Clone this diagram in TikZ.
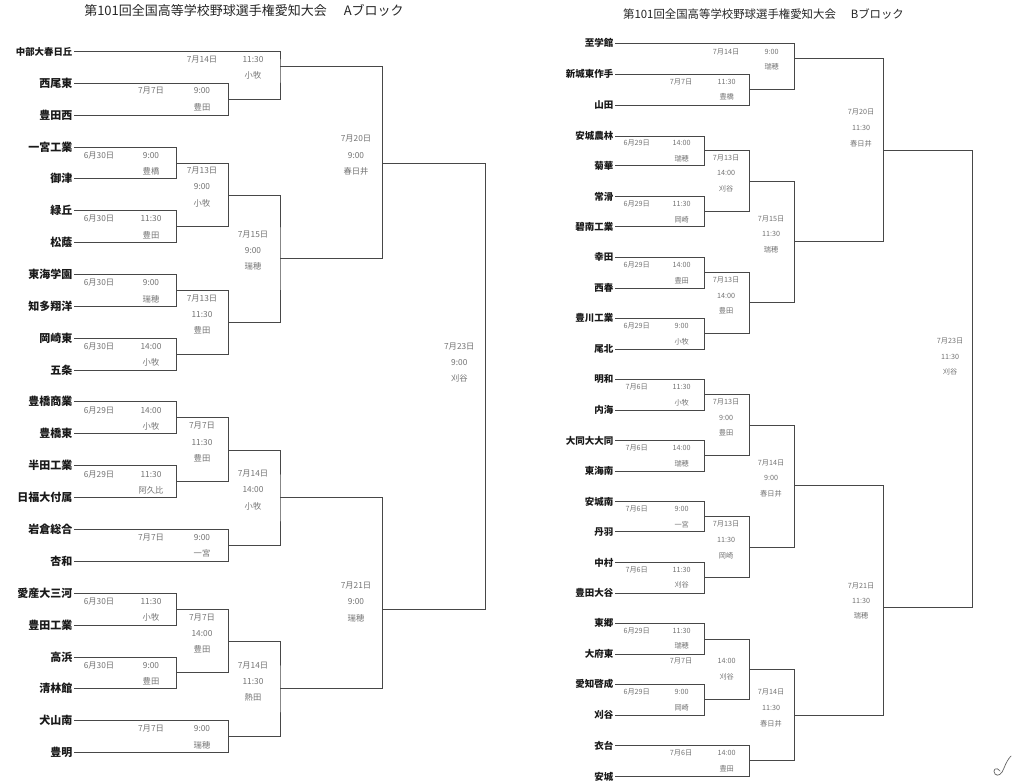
\documentclass[tikz,border=0pt]{standalone}
\usepackage{fontspec}
\newfontfamily\jp{Noto Sans CJK JP}
\newcounter{lbl}
\tikzset{
  br/.style={draw=black!72, line width=1pt},
  teamL/.style={anchor=east, inner xsep=1.5pt, inner ysep=0pt, text=black!90,
    font=\jp\bfseries\fontsize{11}{11}\selectfont},
  teamLs/.style={teamL, font=\jp\bfseries\fontsize{9.4}{9.4}\selectfont},
  teamR/.style={teamL, font=\jp\bfseries\fontsize{9.5}{9.5}\selectfont},
  labL/.style={inner sep=0pt, text=black!55, font=\jp\fontsize{8.3}{8.3}\selectfont},
  labR/.style={labL, font=\jp\fontsize{7.2}{7.2}\selectfont},
  ttlL/.style={inner sep=0pt, text=black!85, font=\jp\fontsize{13}{13}\selectfont},
  ttlR/.style={ttlL, font=\jp\fontsize{11.4}{11.4}\selectfont},
}
\newcommand\mt[5]{\coordinate (#1) at (#4,#5); \draw[br] (#2) -| (#1) |- (#3);}
\newcommand\lb[4]{\stepcounter{lbl}\node[#1] (lb\arabic{lbl}) at (#2,#3) {#4};}
\begin{document}
\begin{tikzpicture}[x=1pt,y=-1pt]
\useasboundingbox (0,0) rectangle (1024,782);
\fill[white] (0,0) rectangle (1024,782);
% titles
\node[ttlL] (titleA) at (244,10.7) {第101回全国高等学校野球選手権愛知大会\hspace{1.3em}Aブロック};
\node[ttlR] (titleB) at (763.5,14.3) {第101回全国高等学校野球選手権愛知大会\hspace{1.3em}Bブロック};
% ---------------- A block teams
\node[teamLs] (a1) at (74,51.7) {中部大春日丘};
\node[teamL] (a2) at (74,83) {西尾東};
\node[teamL] (a3) at (74,115) {豊田西};
\node[teamL] (a4) at (74,147) {一宮工業};
\node[teamL] (a5) at (74,178) {御津};
\node[teamL] (a6) at (74,210.7) {緑丘};
\node[teamL] (a7) at (74,242) {松蔭};
\node[teamL] (a8) at (74,274) {東海学園};
\node[teamL] (a9) at (74,306.7) {知多翔洋};
\node[teamL] (a10) at (74,338) {岡崎東};
\node[teamL] (a11) at (74,370) {五条};
\node[teamL] (a12) at (74,401.7) {豊橋商業};
\node[teamL] (a13) at (74,433) {豊橋東};
\node[teamL] (a14) at (74,465.7) {半田工業};
\node[teamL] (a15) at (74,497.7) {日福大付属};
\node[teamL] (a16) at (74,529.7) {岩倉総合};
\node[teamL] (a17) at (74,561.7) {杏和};
\node[teamL] (a18) at (74,593.3) {愛産大三河};
\node[teamL] (a19) at (74,625) {豊田工業};
\node[teamL] (a20) at (74,657.3) {高浜};
\node[teamL] (a21) at (74,688.7) {清林館};
\node[teamL] (a22) at (74,720.7) {犬山南};
\node[teamL] (a23) at (74,752.7) {豊明};
% A matches
\mt{mA1}{a2.east}{a3.east}{228.7}{99}
\lb{labL}{151}{91}{7月7日}\lb{labL}{202}{91}{9:00}\lb{labL}{202}{107.7}{豊田}
\mt{mA2}{a1.east}{mA1}{280}{66.7}
\lb{labL}{202}{59.3}{7月14日}\lb{labL}{253}{59.3}{11:30}\lb{labL}{253}{75.7}{小牧}
\mt{mA3}{a4.east}{a5.east}{176.7}{163.3}
\lb{labL}{99}{155.3}{6月30日}\lb{labL}{151}{155.3}{9:00}\lb{labL}{151}{171}{豊橋}
\mt{mA4}{a6.east}{a7.east}{176.7}{226}
\lb{labL}{99}{219}{6月30日}\lb{labL}{151}{219}{11:30}\lb{labL}{151}{235}{豊田}
\mt{mA5}{mA3}{mA4}{228.7}{195}
\lb{labL}{202}{171}{7月13日}\lb{labL}{202}{187}{9:00}\lb{labL}{202}{203.3}{小牧}
\mt{mA6}{a8.east}{a9.east}{176.7}{290}
\lb{labL}{99}{282.3}{6月30日}\lb{labL}{151}{282.3}{9:00}\lb{labL}{151}{299}{瑞穂}
\mt{mA7}{a10.east}{a11.east}{176.7}{354}
\lb{labL}{99}{346.7}{6月30日}\lb{labL}{151}{346.7}{14:00}\lb{labL}{151}{362.7}{小牧}
\mt{mA8}{mA6}{mA7}{228.7}{322.3}
\lb{labL}{202}{298.3}{7月13日}\lb{labL}{202}{315}{11:30}\lb{labL}{202}{330.7}{豊田}
\mt{mA9}{mA5}{mA8}{280}{258.3}
\lb{labL}{253}{234.3}{7月15日}\lb{labL}{253}{250.7}{9:00}\lb{labL}{253}{266.7}{瑞穂}
\mt{mA10}{mA2}{mA9}{382.7}{163.3}
\lb{labL}{356}{139}{7月20日}\lb{labL}{356}{155.3}{9:00}\lb{labL}{356}{171}{春日井}
\mt{mA11}{a12.east}{a13.east}{176.7}{417.7}
\lb{labL}{99}{410.7}{6月29日}\lb{labL}{151}{410.7}{14:00}\lb{labL}{151}{426.3}{小牧}
\mt{mA12}{a14.east}{a15.east}{176.7}{481.7}
\lb{labL}{99}{474.3}{6月29日}\lb{labL}{151}{474.3}{11:30}\lb{labL}{151}{490.3}{阿久比}
\mt{mA13}{mA11}{mA12}{228.7}{450}
\lb{labL}{202}{426}{7月7日}\lb{labL}{202}{442.3}{11:30}\lb{labL}{202}{458.3}{豊田}
\mt{mA14}{a16.east}{a17.east}{228.7}{545.7}
\lb{labL}{151}{537.7}{7月7日}\lb{labL}{202}{537.7}{9:00}\lb{labL}{202}{553.3}{一宮}
\mt{mA15}{mA13}{mA14}{280}{497.7}
\lb{labL}{253}{474}{7月14日}\lb{labL}{253}{490}{14:00}\lb{labL}{253}{506}{小牧}
\mt{mA16}{a18.east}{a19.east}{176.7}{609}
\lb{labL}{99}{601.7}{6月30日}\lb{labL}{151}{601.7}{11:30}\lb{labL}{151}{617.7}{小牧}
\mt{mA17}{a20.east}{a21.east}{176.7}{672.7}
\lb{labL}{99}{665.7}{6月30日}\lb{labL}{151}{665.7}{9:00}\lb{labL}{151}{681.3}{豊田}
\mt{mA18}{mA16}{mA17}{228.7}{641}
\lb{labL}{202}{617.7}{7月7日}\lb{labL}{202}{633.3}{14:00}\lb{labL}{202}{649.7}{豊田}
\mt{mA19}{a22.east}{a23.east}{228.7}{736.7}
\lb{labL}{151}{729}{7月7日}\lb{labL}{202}{729}{9:00}\lb{labL}{202}{745}{瑞穂}
\mt{mA20}{mA18}{mA19}{280}{688.7}
\lb{labL}{253}{665.7}{7月14日}\lb{labL}{253}{681.3}{11:30}\lb{labL}{253}{697.7}{熱田}
\mt{mA21}{mA15}{mA20}{382.7}{609}
\lb{labL}{356}{586}{7月21日}\lb{labL}{356}{602}{9:00}\lb{labL}{356}{618}{瑞穂}
\mt{fA}{mA10}{mA21}{485.7}{386}
\lb{labL}{459.3}{346.7}{7月23日}\lb{labL}{459.3}{362.7}{9:00}\lb{labL}{459.3}{378.7}{刈谷}
% ---------------- B block teams
\node[teamR] (b1) at (615,43.3) {至学館};
\node[teamR] (b2) at (615,74) {新城東作手};
\node[teamR] (b3) at (615,105.3) {山田};
\node[teamR] (b4) at (615,136) {安城農林};
\node[teamR] (b5) at (615,165.7) {菊華};
\node[teamR] (b6) at (615,196.7) {常滑};
\node[teamR] (b7) at (615,226.7) {碧南工業};
\node[teamR] (b8) at (615,257.3) {幸田};
\node[teamR] (b9) at (615,288.3) {西春};
\node[teamR] (b10) at (615,318.3) {豊川工業};
\node[teamR] (b11) at (615,349) {尾北};
\node[teamR] (b12) at (615,379) {明和};
\node[teamR] (b13) at (615,410) {内海};
\node[teamR] (b14) at (615,440.7) {大同大大同};
\node[teamR] (b15) at (615,471) {東海南};
\node[teamR] (b16) at (615,501.7) {安城南};
\node[teamR] (b17) at (615,531.7) {丹羽};
\node[teamR] (b18) at (615,562.7) {中村};
\node[teamR] (b19) at (615,593.3) {豊田大谷};
\node[teamR] (b20) at (615,623.3) {東郷};
\node[teamR] (b21) at (615,654) {大府東};
\node[teamR] (b22) at (615,684.3) {愛知啓成};
\node[teamR] (b23) at (615,715) {刈谷};
\node[teamR] (b24) at (615,745.7) {衣台};
\node[teamR] (b25) at (615,776.7) {安城};
% B matches
\mt{mB1}{b2.east}{b3.east}{749.3}{89.3}
\lb{labR}{681}{82.3}{7月7日}\lb{labR}{726.7}{82.3}{11:30}\lb{labR}{726.7}{96.7}{豊橋}
\mt{mB2}{b1.east}{mB1}{794.3}{58.7}
\lb{labR}{726}{51.7}{7月14日}\lb{labR}{771.7}{51.7}{9:00}\lb{labR}{771.7}{66.7}{瑞穂}
\mt{mB3}{b4.east}{b5.east}{704.3}{150.3}
\lb{labR}{636.7}{143.3}{6月29日}\lb{labR}{681.7}{143.3}{14:00}\lb{labR}{681.7}{158.3}{瑞穂}
\mt{mB4}{b6.east}{b7.east}{704.3}{211}
\lb{labR}{636.7}{204}{6月29日}\lb{labR}{681.7}{204}{11:30}\lb{labR}{681.7}{219.3}{岡崎}
\mt{mB5}{mB3}{mB4}{749.3}{181}
\lb{labR}{726}{157.7}{7月13日}\lb{labR}{726}{173.3}{14:00}\lb{labR}{726}{189}{刈谷}
\mt{mB6}{b8.east}{b9.east}{704.3}{272.3}
\lb{labR}{636.7}{265}{6月29日}\lb{labR}{681.7}{265}{14:00}\lb{labR}{681.7}{280.7}{豊田}
\mt{mB7}{b10.east}{b11.east}{704.3}{333.3}
\lb{labR}{636.7}{326}{6月29日}\lb{labR}{681.7}{326}{9:00}\lb{labR}{681.7}{341.7}{小牧}
\mt{mB8}{mB6}{mB7}{749.3}{302.7}
\lb{labR}{726}{280}{7月13日}\lb{labR}{726}{296}{14:00}\lb{labR}{726}{311}{豊田}
\mt{mB9}{mB5}{mB8}{794.3}{241.7}
\lb{labR}{771}{219}{7月15日}\lb{labR}{771}{234.3}{11:30}\lb{labR}{771}{250}{瑞穂}
\mt{mB10}{mB2}{mB9}{883.3}{150.3}
\lb{labR}{861}{112.3}{7月20日}\lb{labR}{861}{127.7}{11:30}\lb{labR}{861}{143.3}{春日井}
\mt{mB11}{b12.east}{b13.east}{704.3}{394.3}
\lb{labR}{636.7}{386.7}{7月6日}\lb{labR}{681.7}{386.7}{11:30}\lb{labR}{681.7}{402.3}{小牧}
\mt{mB12}{b14.east}{b15.east}{704.3}{455.7}
\lb{labR}{636.7}{448.3}{7月6日}\lb{labR}{681.7}{448.3}{14:00}\lb{labR}{681.7}{463.3}{瑞穂}
\mt{mB13}{mB11}{mB12}{749.3}{425}
\lb{labR}{726}{402.3}{7月13日}\lb{labR}{726}{417.7}{9:00}\lb{labR}{726}{432.7}{豊田}
\mt{mB14}{b16.east}{b17.east}{704.3}{516.7}
\lb{labR}{636.7}{509.3}{7月6日}\lb{labR}{681.7}{509.3}{9:00}\lb{labR}{681.7}{524.3}{一宮}
\mt{mB15}{b18.east}{b19.east}{704.3}{577.7}
\lb{labR}{636.7}{570.3}{7月6日}\lb{labR}{681.7}{570.3}{11:30}\lb{labR}{681.7}{585}{刈谷}
\mt{mB16}{mB14}{mB15}{749.3}{547.3}
\lb{labR}{726}{524.3}{7月13日}\lb{labR}{726}{540}{11:30}\lb{labR}{726}{555.7}{岡崎}
\mt{mB17}{mB13}{mB16}{794.3}{485.7}
\lb{labR}{771}{463.3}{7月14日}\lb{labR}{771}{478.3}{9:00}\lb{labR}{771}{494}{春日井}
\mt{mB18}{b20.east}{b21.east}{704.3}{639}
\lb{labR}{636.7}{631}{6月29日}\lb{labR}{681.7}{631}{11:30}\lb{labR}{681.7}{646}{瑞穂}
\mt{mB19}{b22.east}{b23.east}{704.3}{699.3}
\lb{labR}{636.7}{692.3}{6月29日}\lb{labR}{681.7}{692.3}{9:00}\lb{labR}{681.7}{707.7}{岡崎}
\mt{mB20}{mB18}{mB19}{749.3}{669}
\lb{labR}{681}{661}{7月7日}\lb{labR}{726.7}{661}{14:00}\lb{labR}{726.7}{676.7}{刈谷}
\mt{mB21}{b24.east}{b25.east}{749.3}{760}
\lb{labR}{681}{753.3}{7月6日}\lb{labR}{726.7}{753.3}{14:00}\lb{labR}{726.7}{768.3}{豊田}
\mt{mB22}{mB20}{mB21}{794.3}{715}
\lb{labR}{771}{692.3}{7月14日}\lb{labR}{771}{707.7}{11:30}\lb{labR}{771}{723.3}{春日井}
\mt{mB23}{mB17}{mB22}{883.3}{607.7}
\lb{labR}{861}{585.7}{7月21日}\lb{labR}{861}{600.7}{11:30}\lb{labR}{861}{615.7}{瑞穂}
\mt{fB}{mB10}{mB23}{972.7}{379}
\lb{labR}{950}{341}{7月23日}\lb{labR}{950}{356.7}{11:30}\lb{labR}{950}{372}{刈谷}
% signature mark
\draw[black!60, line width=0.7pt, line cap=round]
  (1000,771) .. controls (996,766) and (992,770) .. (995,774)
  .. controls (998,777) and (1002,774) .. (1004,768)
  .. controls (1006,763) and (1008,759) .. (1011,756);
\end{tikzpicture}
\end{document}
